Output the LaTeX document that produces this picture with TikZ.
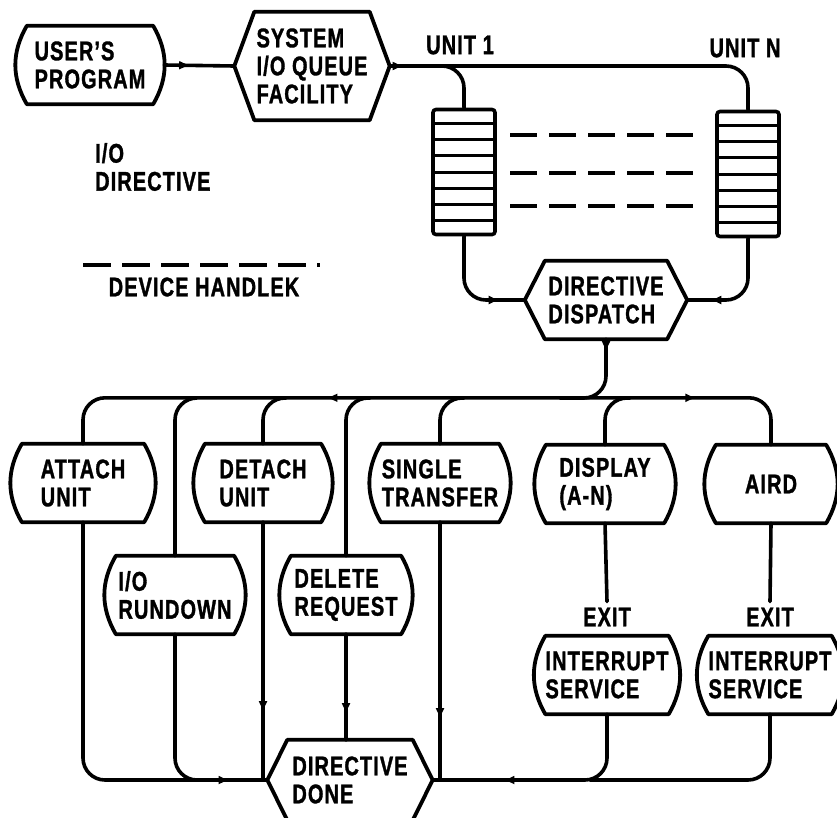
\documentclass[tikz,border=0pt]{standalone}
\usepackage{fontspec}
\setmainfont{Liberation Sans}[FakeStretch=0.74, FakeBold=1.2, LetterSpace=4]
\usetikzlibrary{arrows.meta,calc,decorations.markings}

\tikzset{
	wire/.style = {line width = 3.6pt, line cap = round, rounded corners = 22pt},
	outline/.style = {line width = 3.8pt, line cap = round, line join = round},
	lbl/.style = {font = \fontsize{27}{28}\selectfont\bfseries, align = left, inner sep = 0pt},
	tapebox/.style = {lbl, minimum width = #1, minimum height = 78pt},
	hexbox/.style = {lbl, minimum width = #1, minimum height = 80pt},
	queue/.style = {draw, line width = 3.6pt, rounded corners = 3pt, minimum width = 62pt, minimum height = 125pt},
	midarrow/.style = {postaction = {decorate, decoration = {markings,
		mark = at position #1 with {\arrow{Latex[length=11pt,width=9pt]}}}}},
	backarrow/.style = {postaction = {decorate, decoration = {markings,
		mark = at position #1 with {\arrowreversed{Latex[length=11pt,width=9pt]}}}}}
}

\begin{document}
\begin{tikzpicture}[x = 1pt, y = -1pt]

	\useasboundingbox (0,0) rectangle (837,817);

	% top row
	\node[tapebox = 126] (user) at (90,65) {USER'S\\PROGRAM};
	\node[hexbox = 155, minimum height = 108pt] (sys) at (312,66) {SYSTEM\\I/O QUEUE\\FACILITY};
	\node[lbl] (unit1) at (460,45) {UNIT 1};
	\node[lbl] (unitN) at (745,48) {UNIT N};
	\node[queue] (q1) at (464,172) {};
	\node[queue] (qN) at (748,174) {};
	\node[hexbox = 162, minimum height = 78pt] (disp) at (606,300) {DIRECTIVE\\DISPATCH};

	\node[lbl, anchor = west] (iodir) at (95,167) {I/O\\DIRECTIVE};
	\node[lbl] (handler) at (204,287) {DEVICE HANDLEK};

	% handler row
	\node[tapebox = 122] (attach) at (83,483) {ATTACH\\UNIT};
	\node[tapebox = 116] (detach) at (263,483) {DETACH\\UNIT};
	\node[tapebox = 118] (single) at (440,483) {SINGLE\\TRANSFER};
	\node[tapebox = 118] (display) at (605,484) {DISPLAY\\(A-N)};
	\node[tapebox = 110] (aird) at (771,484) {AIRD};
	\node[tapebox = 118] (rundown) at (175,595) {I/O\\RUNDOWN};
	\node[tapebox = 110] (delete) at (346,595) {DELETE\\REQUEST};
	\node[lbl, inner sep = 6pt] (exit1) at (607,617) {EXIT};
	\node[lbl, inner sep = 6pt] (exit2) at (770,617) {EXIT};
	\node[tapebox = 118] (int1) at (607,675) {INTERRUPT\\SERVICE};
	\node[tapebox = 112] (int2) at (770,675) {INTERRUPT\\SERVICE};
	\node[hexbox = 165] (done) at (350,780) {DIRECTIVE\\DONE};

	% outlines
	\foreach \b in {user,attach,detach,single,display,aird,rundown,delete,int1,int2}
		\draw[outline] (\b.north west) -- (\b.north east) to[out=-60,in=60] (\b.south east)
			-- (\b.south west) to[out=120,in=240] (\b.north west) -- cycle;
	\foreach \h in {sys,disp,done}
		\draw[outline] (\h.west) -- ($(\h.north west)+(20,0)$) -- ($(\h.north east)+(-20,0)$)
			-- (\h.east) -- ($(\h.south east)+(-20,0)$) -- ($(\h.south west)+(20,0)$) -- cycle;
	\foreach \q in {q1,qN}
		\foreach \i in {1,...,7}
			\draw[line width = 3pt] ($(\q.north west)!\i/8!(\q.south west)$) -- ($(\q.north east)!\i/8!(\q.south east)$);
	\foreach \y in {135,173,206}
		\draw[line width = 3.6pt, dash pattern = on 27pt off 12pt] (510,\y) -- (700,\y);
	\draw[line width = 3.6pt, dash pattern = on 28pt off 11pt] (83,265) -- (320,265);

	% junctions
	\coordinate (j1) at (430,66);
	\coordinate (b0) at (560,398);
	\coordinate (b1) at (196,398);
	\coordinate (b2) at (286,398);
	\coordinate (b3) at (370,398);
	\coordinate (b4) at (464,398);
	\coordinate (b5) at (630,398);
	\coordinate (r1) at (200,780);
	\coordinate (r2) at (590,780);

	% queue side
	\draw[wire, midarrow = 26pt] ([xshift = 11pt]user.east) -- (sys.west);
	\draw[wire, midarrow = 14pt] (sys.east) -| (qN.north);
	\draw[wire] (j1) -| (q1.north);
	\draw[wire, midarrow = 90pt] (q1.south) |- (disp.west);
	\draw[wire, midarrow = 90pt] (qN.south) |- (disp.east);
	\draw[wire, midarrow = 13pt] (disp.south) |- (b0);

	% dispatch bus
	\draw[wire, backarrow = 280pt, midarrow = 650pt] (attach.north) -- ++(0,-46) -| (aird.north);
	\draw[wire] (b1) -| (rundown.north);
	\draw[wire] (b2) -| (detach.north);
	\draw[wire] (b3) -| (delete.north);
	\draw[wire] (b4) -| (single.north);
	\draw[wire] (b5) -| (display.north);
	\draw[wire] (display.south) -- (exit1.north);
	\draw[wire] (aird.south) -- (exit2.north);

	% return to done
	\draw[wire, midarrow = 395pt] (attach.south) |- (done.west);
	\draw[wire] (rundown.south) |- (r1);
	\draw[wire, midarrow = 190pt] (detach.south) -- (detach.south |- done.west);
	\draw[wire, midarrow = 80pt] (delete.south) -- (delete.south |- done.north);
	\draw[wire, midarrow = 197pt] (single.south) -- (single.south |- done.east);
	\draw[wire, midarrow = 160pt] (int1.south) |- (done.east);
	\draw[wire] (int2.south) |- (r2);

\end{tikzpicture}
\end{document}
